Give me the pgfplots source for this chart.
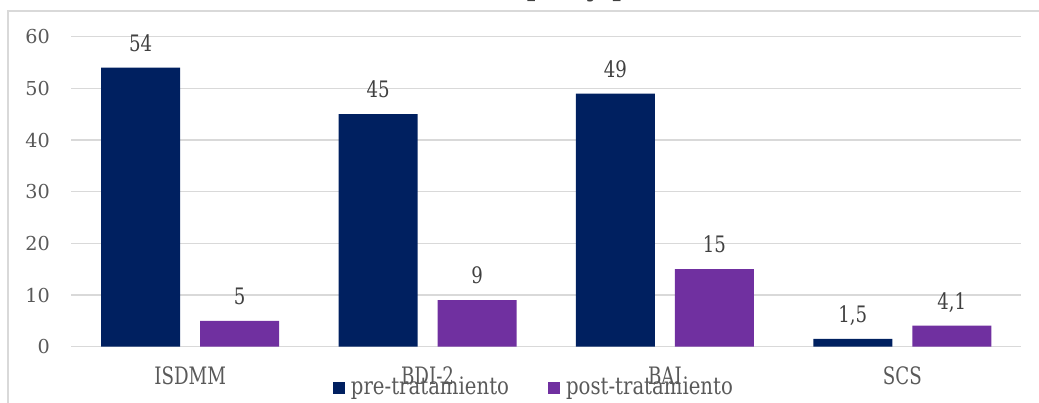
\documentclass[border=0pt]{standalone}
\usepackage{fontspec}
\setmainfont{DejaVu Serif}
\newfontfamily\catfont[FakeStretch=0.76]{DejaVu Serif}
\newfontfamily\valfont[FakeStretch=0.80]{DejaVu Serif}
\newfontfamily\legfont[FakeStretch=0.82]{DejaVu Serif}
\usepackage{pgfplots}
\pgfplotsset{compat=1.18}

\definecolor{pre}{RGB}{0,32,96}
\definecolor{post}{RGB}{112,48,160}
\definecolor{gridgray}{RGB}{217,217,217}
\definecolor{txt}{RGB}{89,89,89}
\definecolor{lbl}{RGB}{64,64,64}

\begin{document}
\begin{tikzpicture}[x=0.75pt,y=0.75pt]
\useasboundingbox (0,0) rectangle (1039,403);
% chart area frame
\draw[gridgray, line width=1.1pt] (8,-20) -- (8,392) -- (1080,392);
% chart title
\node[anchor=base east, inner sep=0pt, text=lbl, font=\fontsize{22pt}{26pt}\selectfont] at (577,407) {Puntuaciones pre};
\node[anchor=base west, inner sep=0pt, text=lbl, font=\fontsize{22pt}{26pt}\selectfont] at (586,407) {y post tratamiento};
\begin{axis}[
  at={(53.625pt,42.225pt)}, anchor=south west,
  scale only axis, width=712.1pt, height=232.5pt,
  ybar=15pt, bar width=59.25pt,
  xmin=-0.5, xmax=3.5, ymin=0, ymax=60,
  xtick={0,1,2,3}, xticklabels={ISDMM,BDI-2,BAI,SCS},
  ytick={0,10,...,60},
  axis line style={draw=none},
  major tick length=0pt,
  ymajorgrids, grid style={gridgray, line width=0.8pt},
  yticklabel style={font=\fontsize{14.4pt}{17pt}\selectfont, text=txt, anchor=east, inner sep=0pt, xshift=-16pt},
  xticklabel style={font=\catfont\fontsize{18pt}{21pt}\selectfont, text=txt, anchor=base, inner sep=0pt, yshift=-28.7pt},
  /pgf/number format/.cd, use comma, 1000 sep={}, assume math mode=true,
  /pgfplots/.cd,
  nodes near coords,
  nodes near coords style={font=\valfont\fontsize{17pt}{20pt}\selectfont, text=lbl, anchor=south, inner sep=0pt, text depth=0pt, yshift=12pt},
  legend style={draw=none, fill=none, font=\legfont\fontsize{18pt}{21pt}\selectfont, text=txt,
    at={(0.2754,-0.1296)}, anchor=base west,
    inner sep=0pt, outer sep=0pt,
    nodes={inner sep=0pt},
    /tikz/every odd column/.append style={column sep=4.5pt},
    /tikz/every even column/.append style={column sep=29.3pt}},
  legend columns=2,
  legend image code/.code={\path[#1, draw=none] (0pt,-5.25pt) rectangle (9pt,3.75pt);},
]
\addplot[fill=pre, draw=none] coordinates {(0,54) (1,45) (2,49) (3,1.5)};
\addplot[fill=post, draw=none] coordinates {(0,5) (1,9) (2,15) (3,4.1)};
\legend{pre-tratamiento, post-tratamiento}
\end{axis}
\end{tikzpicture}
\end{document}
